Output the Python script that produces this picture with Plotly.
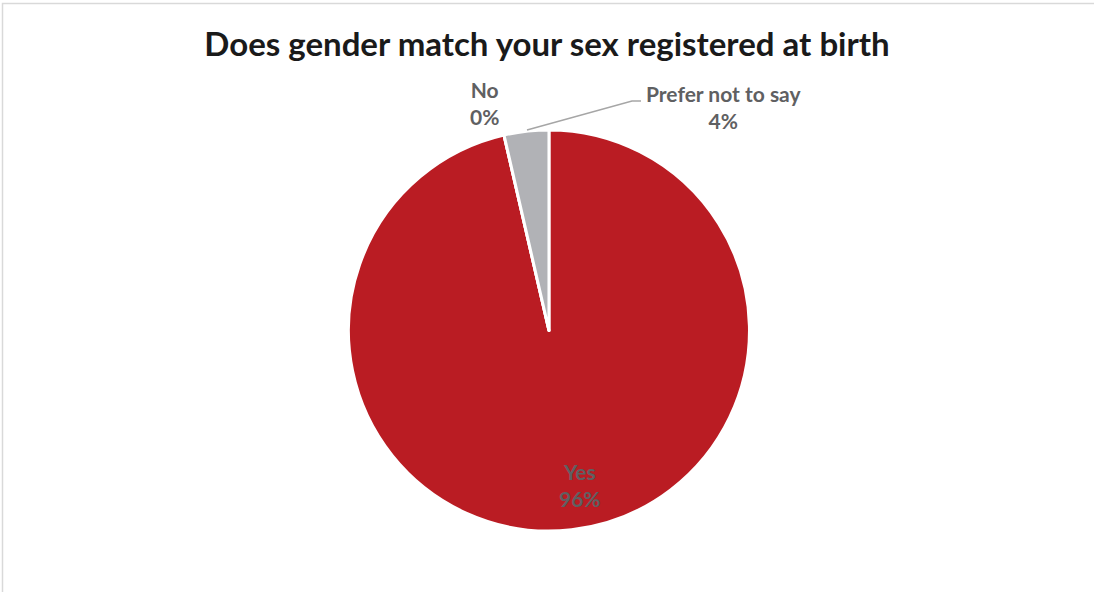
import plotly.graph_objects as go

labels = ["Yes", "No", "Prefer not to say"]
values = [96.4, 0.0, 3.6]
colors = ["#BA1C23", "#BA1C23", "#B1B2B6"]
title = "Does gender match your sex registered at birth"

W, H = 1094, 592
total = sum(values)
pct = [f"{round(v / total * 100):.0f}%" for v in values]

fig = go.Figure(go.Pie(
    labels=labels, values=values, sort=False, direction="clockwise", rotation=0,
    marker=dict(colors=colors, line=dict(color="white", width=3)),
    textinfo="none", hoverinfo="label+percent", showlegend=False,
    domain=dict(x=[0.3185, 0.6851], y=[0.103, 0.7804]),
))

font_lbl = dict(family="Lato", size=21, color="#5F6062")
# label positions (pixel-space anchors for each category label)
label_pos = {"Yes": (580, 485), "No": (484, 103), "Prefer not to say": (723, 107)}
for lab, p in zip(labels, pct):
    x, y = label_pos[lab]
    fig.add_annotation(x=x / W, y=1 - y / H, xref="paper", yref="paper",
                       text=f"<b>{lab}</b><br><b>{p}</b>", showarrow=False,
                       font=font_lbl, xanchor="center", yanchor="middle", align="center")

# leader line for "Prefer not to say"
pts = [(527, 130), (632, 101), (641, 101)]
path = "M " + " L ".join(f"{x / W} {1 - y / H}" for x, y in pts)
fig.add_shape(type="path", path=path, xref="paper", yref="paper",
              line=dict(color="#A6A6A6", width=1.5))

# chart border
fig.add_shape(type="rect", x0=2.5 / W, x1=1.01, y0=-0.01, y1=1 - 3.5 / H,
              xref="paper", yref="paper", line=dict(color="#D9D9D9", width=1.5))

fig.update_layout(
    width=W, height=H, margin=dict(l=0, r=0, t=0, b=0),
    paper_bgcolor="white", plot_bgcolor="white",
    title=dict(text=f"<b>{title}</b>", x=0.5, xanchor="center", y=1 - 44 / H, yanchor="middle",
               font=dict(family="Lato", size=33, color="#1A1A1A")),
)

fig.write_html("out.html")
